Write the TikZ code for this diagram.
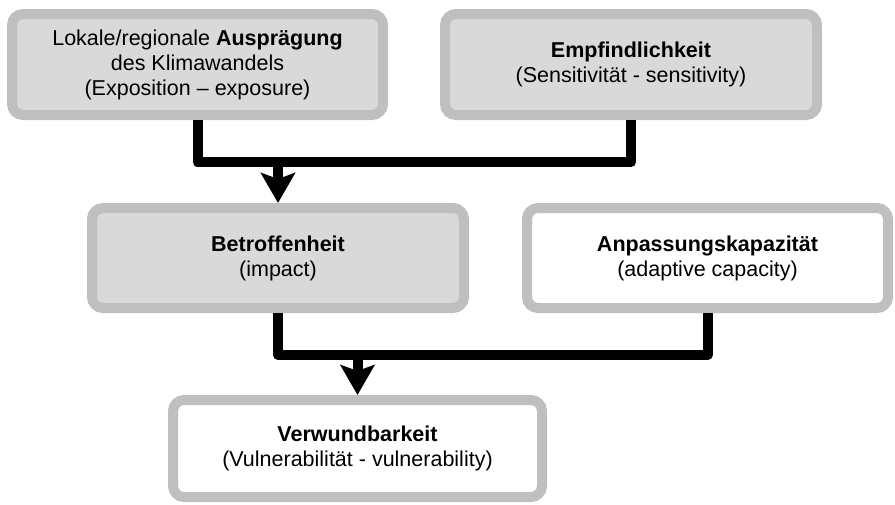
\documentclass[tikz,border=0pt]{standalone}
\usepackage{fontspec}
\setmainfont{Liberation Sans}
\usepackage{tikz}
\usetikzlibrary{arrows.meta, positioning, calc}
\definecolor{FrameGray}{HTML}{BFBFBF}
\definecolor{BoxGray}{HTML}{D9D9D9}

\begin{document}
\begin{tikzpicture}[x=1pt, y=-1pt,
  every node/.style={font=\fontsize{21.5}{25}\selectfont},
  factor/.style={rectangle, rounded corners=11pt, draw=FrameGray, line width=10pt, align=center, inner sep=0pt},
  greybox/.style={factor, fill=BoxGray},
  whitebox/.style={factor, fill=white},
  link/.style={line width=10pt, line join=round},
  flow/.style={link, -{Stealth[width=34pt, length=30pt, inset=6pt]}}]
  \useasboundingbox (0,0) rectangle (895,504);

  % upper row
  \node[greybox, minimum width=371pt, minimum height=101pt] (auspr) at (197.5,64.5)
    {Lokale/regionale \textbf{Ausprägung}\\des Klimawandels\\(Exposition – exposure)};
  \node[greybox, minimum width=372pt, minimum height=101pt] (empf) at (631,64.5)
    {\textbf{Empfindlichkeit}\\(Sensitivität - sensitivity)};

  % middle row
  \node[greybox, minimum width=372pt, minimum height=100pt] (betr) at (278,258)
    {\textbf{Betroffenheit}\\(impact)};
  \node[whitebox, minimum width=361pt, minimum height=100pt] (anpass) at (707.5,258)
    {\textbf{Anpassungskapazität}\\(adaptive capacity)};

  % result
  \node[whitebox, minimum width=369pt, minimum height=97pt] (verw) at (357.5,448.5)
    {\textbf{Verwundbarkeit}\\(Vulnerabilität - vulnerability)};

  % connectors
  \coordinate (join1) at (278,162);
  \coordinate (join2) at (357.5,355);
  \draw[link] (auspr.south) |- (join1) -| (empf.south);
  \draw[flow] (join1) -- (betr.north);
  \draw[link] (betr.south) |- (join2) -| (anpass.south);
  \draw[flow] (join2) -- (verw.north);
\end{tikzpicture}
\end{document}
